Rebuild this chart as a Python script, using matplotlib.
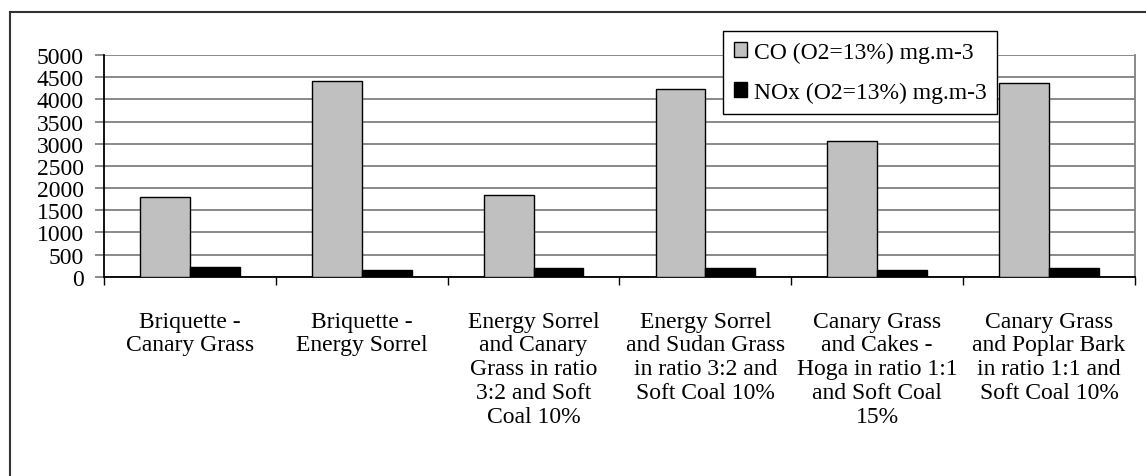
import numpy as np
import matplotlib.pyplot as plt
from matplotlib.patches import Patch
from matplotlib.lines import Line2D

plt.rcParams['font.family'] = ['Liberation Serif', 'DejaVu Serif']

categories = [
    "Briquette -\nCanary Grass",
    "Briquette -\nEnergy Sorrel",
    "Energy Sorrel\nand Canary\nGrass in ratio\n3:2 and Soft\nCoal 10%",
    "Energy Sorrel\nand Sudan Grass\nin ratio 3:2 and\nSoft Coal 10%",
    "Canary Grass\nand Cakes -\nHoga in ratio 1:1\nand Soft Coal\n15%",
    "Canary Grass\nand Poplar Bark\nin ratio 1:1 and\nSoft Coal 10%",
]
co_values = [1800, 4420, 1850, 4240, 3060, 4370]
nox_values = [230, 140, 190, 190, 140, 190]
series_names = ["CO (O2=13%) mg.m-3", "NOx (O2=13%) mg.m-3"]
y_ticks = list(range(0, 5001, 500))

FS = 17
W, H = 1146, 477
fig = plt.figure(figsize=(W / 100, H / 100), dpi=100)
ax = fig.add_axes([104 / W, 1 - 277.7 / H, (1135 - 104) / W, (277.7 - 56) / H])

x = np.arange(len(categories))
bw = 0.29
ax.bar(x - bw / 2, co_values, bw, color='#c0c0c0', edgecolor='black', linewidth=1.0, zorder=3)
ax.bar(x + bw / 2, nox_values, bw, color='black', edgecolor='black', linewidth=1.0, zorder=3)

ax.set_xlim(-0.5, len(categories) - 0.5)
ax.set_ylim(0, 5000)
ax.set_yticks(y_ticks)
ax.yaxis.grid(True, color='#808080', linewidth=1.3, zorder=0)
ax.set_axisbelow(True)

ax.set_xticks(x)
ax.set_xticklabels(categories, fontsize=FS, linespacing=1.17, va='top')
ax.set_xticks(np.arange(len(categories) + 1) - 0.5, minor=True)
ax.tick_params(axis='x', which='major', length=0, pad=24.5)
ax.tick_params(axis='x', which='minor', length=6, width=1, color='black', direction='out')
ax.tick_params(axis='y', length=6.5, width=1.3, color='#808080', pad=8, labelsize=FS)

for s in ['left', 'bottom']:
    ax.spines[s].set_color('black')
    ax.spines[s].set_linewidth(1.3)
ax.spines['right'].set_color('#808080')
ax.spines['right'].set_linewidth(1.3)
ax.spines['top'].set_visible(False)

handles = [Patch(facecolor='#c0c0c0', edgecolor='black', linewidth=1.0),
           Patch(facecolor='black', edgecolor='black', linewidth=1.0)]
leg = fig.legend(handles, series_names, loc='upper left',
                 bbox_to_anchor=(723 / W, 1 - 32 / H), fontsize=FS,
                 frameon=True, fancybox=False, framealpha=1,
                 handlelength=0.55, handleheight=0.55, handletextpad=0.3,
                 borderpad=0.45, labelspacing=0.8, borderaxespad=0)
leg.get_frame().set_edgecolor('black')
leg.get_frame().set_linewidth(1.0)

# outer frame (cut off at right and bottom)
fx = 10 / W
fy = 1 - 13 / H
fig.add_artist(Line2D([fx, fx], [0, fy], transform=fig.transFigure, color='#333333', linewidth=1.5))
fig.add_artist(Line2D([fx, 1], [fy, fy], transform=fig.transFigure, color='#333333', linewidth=1.5))

fig.savefig('out.png', dpi=100)
